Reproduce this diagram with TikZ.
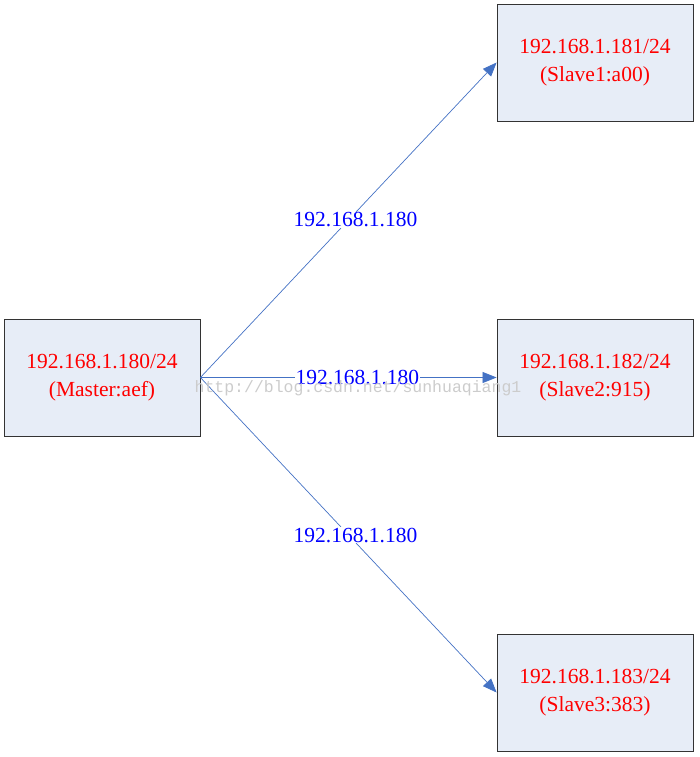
\documentclass[tikz,border=0pt]{standalone}
\usepackage{fontspec}
\setmainfont{Liberation Serif}
\setmonofont{Liberation Mono}
\usepackage{xcolor}
\usetikzlibrary{positioning,arrows.meta}
\definecolor{boxfill}{RGB}{231,237,247}
\definecolor{linkblue}{RGB}{68,114,196}
\newfontfamily\hostfont{Liberation Serif}
\tikzset{
  host/.style={rectangle, fill=boxfill, draw=black!80, minimum width=196pt, minimum height=117pt, align=center, text=red, font=\hostfont\fontsize{21.5}{28}\selectfont, line width=0.8pt},
  link/.style={draw=linkblue, line width=0.7pt, -{Triangle[length=14pt,width=11pt]}},
  lbl/.style={fill=white, text=blue, inner sep=1pt, font=\hostfont\fontsize{21.5}{26}\selectfont},
  wmark/.style={text=black!20, font=\ttfamily\fontsize{16.5}{20}\selectfont, inner sep=0pt}
}
\begin{document}
\begin{tikzpicture}[x=1pt, y=-1pt]
        \useasboundingbox (0,0) rectangle (699,757);
        \node[host] (m) at (102,377.5) {192.168.1.180/24\\(Master:aef)};
        \node[host] (s1) at (595,62.5) {192.168.1.181/24\\(Slave1:a00)};
        \node[host] (s2) at (595,377.5) {192.168.1.182/24\\(Slave2:915)};
        \node[host] (s3) at (595,692.5) {192.168.1.183/24\\(Slave3:383)};
        \draw[link] (m.east)--(s1.west) node[lbl, pos=0.5, xshift=7pt] {192.168.1.180};
        \draw[link] (m.east)--(s2.west) node[lbl, pos=0.53] {192.168.1.180};
        \draw[link] (m.east)--(s3.west) node[lbl, pos=0.5, xshift=7pt] {192.168.1.180};
        \node[wmark] (wm) at (358,388) {http://blog.csdn.net/sunhuaqiang1};
      \end{tikzpicture}
\end{document}
